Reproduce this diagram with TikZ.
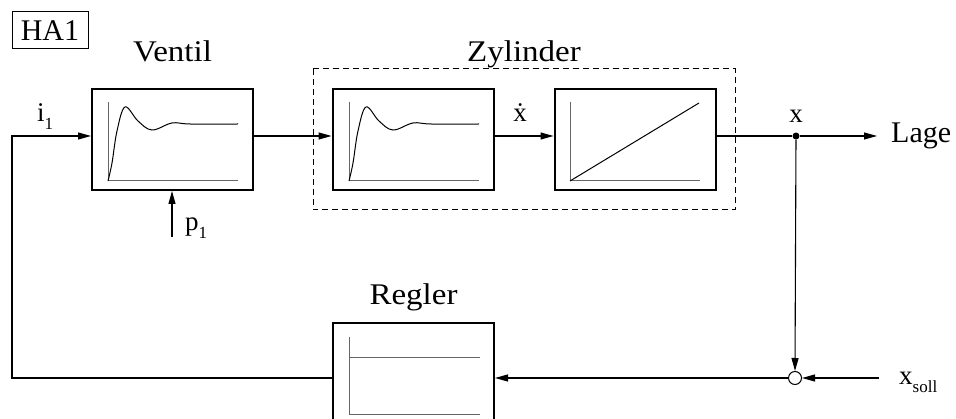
\documentclass[tikz,border=0pt]{standalone}
\usepackage{fontspec}
\setmainfont{Liberation Serif}
\newfontfamily\widefont[FakeStretch=1.1]{Liberation Serif}
\usetikzlibrary{arrows.meta}
\begin{document}
\begin{tikzpicture}[x=1pt,y=-1pt,
  blk/.style={draw,line width=2pt,minimum width=161pt,minimum height=101pt,inner sep=0pt},
  conn/.style={line width=1.1pt},
  arr/.style={conn,-{Triangle[length=13pt,width=7pt]}},
  axis/.style={line width=1pt,gray!80!black},
  curve/.style={line width=1pt,black},
  lbl/.style={font=\widefont\fontsize{30}{34}\selectfont,inner sep=0pt,anchor=base},
  sig/.style={font=\fontsize{27}{32}\selectfont,inner sep=0pt,anchor=base}]
\useasboundingbox (0,0) rectangle (956,419);
\newcommand{\subs}[1]{\raisebox{-0.28em}{\fontsize{17}{20}\selectfont #1}}
% blocks
\node[blk] (ventil) at (172.5,139.5) {};
\node[blk] (zyla) at (413,139.5) {};
\node[blk] (zylb) at (635,139.5) {};
\node[blk] (regler) at (413.5,373.5) {};
% HA1
\node[draw,line width=1pt,minimum width=76pt,minimum height=37pt,inner sep=0pt,
  font=\fontsize{30}{34}\selectfont] (ha) at (50,30.5) {HA1};
% dashed group
\draw[line width=1pt,dash pattern=on 6pt off 4pt] (313,69) rectangle (735,210);
% labels
\node[lbl] (lv) at (172.5,62) {Ventil};
\node[lbl] (lz) at (524,62) {Zylinder};
\node[lbl] (lr) at (413.5,305) {Regler};
\node[lbl,font=\fontsize{30}{34}\selectfont,anchor=base west] (ll) at (891,143) {Lage};
\node[sig,anchor=base west] (li) at (37,122) {i\subs{1}};
\node[sig] (lxd) at (520,122) {\.{x}};
\node[sig] (lx) at (796,123) {x};
\node[sig,anchor=base west] (lp) at (185,231) {p\subs{1}};
\node[sig,anchor=base west] (ls) at (899,385) {x\subs{soll}};
% graphs
\foreach \ox/\oy in {108/181,349/181}{
  \draw[axis] (\ox,\oy-79) -- (\ox,\oy) -- (\ox+130,\oy);
  \draw[curve] plot[smooth,tension=0.6] coordinates {(\ox,\oy) (\ox+4,\oy-18) (\ox+9,\oy-50) (\ox+17,\oy-74) (\ox+30,\oy-60) (\ox+44,\oy-51) (\ox+64,\oy-58) (\ox+82,\oy-57) (\ox+130,\oy-57)};
}
\draw[axis] (570,102) -- (570,181) -- (700,181);
\draw[curve] (570,181) -- (699,103);
\draw[axis] (349,337) -- (349,415) -- (480,415);
\draw[axis] (349,358) -- (480,358);
% coordinates
\coordinate (rowa) at (0,136);
\coordinate (rowb) at (0,378);
\coordinate (fbl) at (12,378);
\coordinate (fbt) at (12,136);
\coordinate (lage) at (877,136);
\coordinate (soll) at (879,378);
\coordinate (pin) at (172,237);
\node[circle,fill,inner sep=0pt,minimum size=7pt] (br) at (796,136) {};
\node[circle,draw,line width=1pt,fill=white,inner sep=0pt,minimum size=13pt] (sum) at (795,378) {};
% connectors
\draw[arr] (regler.west |- rowb) -- (fbl) -- (fbt) -- (ventil.west |- rowa);
\draw[arr] (ventil.east |- rowa) -- (zyla.west |- rowa);
\draw[arr] (zyla.east |- rowa) -- (zylb.west |- rowa);
\draw[conn] (zylb.east |- rowa) -- (br);
\draw[arr] (br) -- (lage);
\draw[arr] (br) -- (sum.north);
\draw[arr] (soll) -- (sum.east);
\draw[arr] (sum.west) -- (regler.east |- rowb);
\draw[arr] (pin) -- (ventil.south -| pin);
\end{tikzpicture}
\end{document}
